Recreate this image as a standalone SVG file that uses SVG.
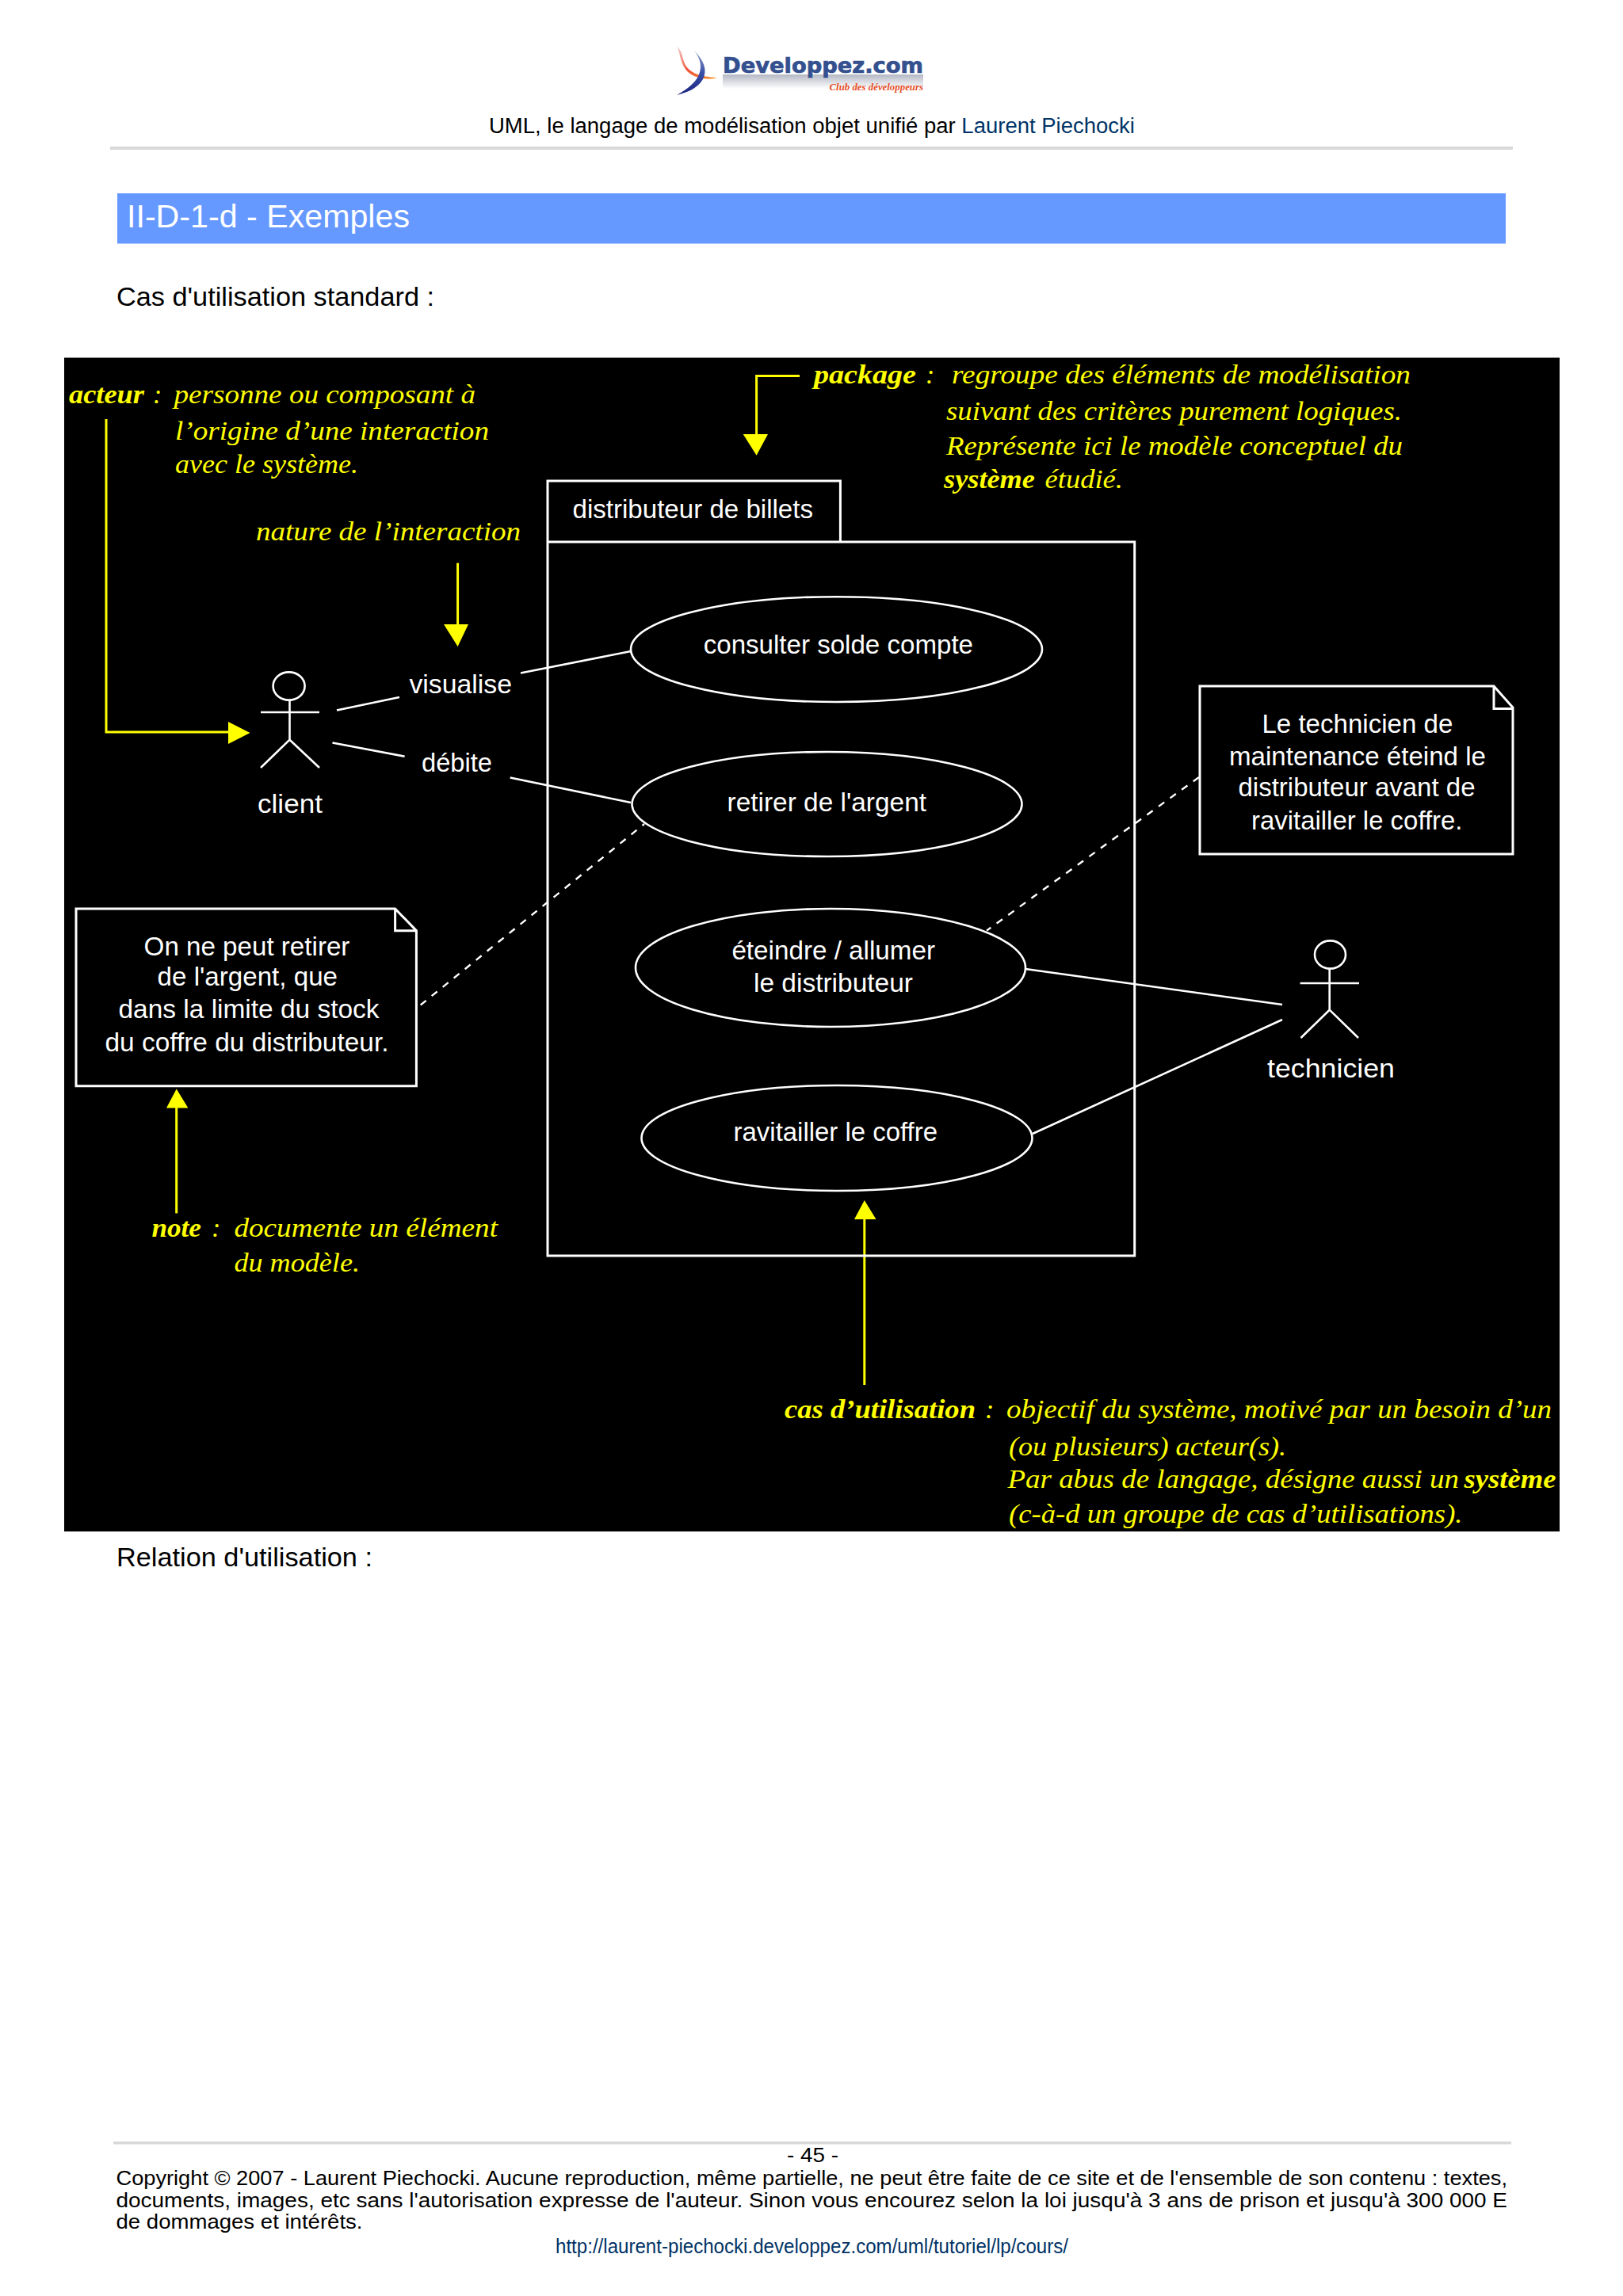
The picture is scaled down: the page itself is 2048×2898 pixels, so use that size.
<svg xmlns="http://www.w3.org/2000/svg" width="2048" height="2898" viewBox="0 0 2048 2898">
<style>
.pg{font-family:"Liberation Sans",Arial,sans-serif;fill:#000}
.lk{fill:#003366}
.w{font-family:"Liberation Sans",Arial,sans-serif;font-size:33px;fill:#fff}
.y{font-family:"Liberation Serif","Times New Roman",serif;font-style:italic;font-size:34px;fill:#ff0}
.b{font-weight:bold}
.sh{fill:none;stroke:#fff;stroke-width:3}
.ln{fill:none;stroke:#fff;stroke-width:2.6}
.da{fill:none;stroke:#fff;stroke-width:2.4;stroke-dasharray:9 9}
.ya{fill:none;stroke:#ff0;stroke-width:3}
.yh{fill:#ff0}
</style>
<rect width="2048" height="2898" fill="#fff"/>
<g id="header">
<defs>
<linearGradient id="swr" x1="0" y1="0" x2="1" y2="1"><stop offset="0" stop-color="#f2d6d6"/><stop offset=".5" stop-color="#f0523a"/><stop offset="1" stop-color="#f7941e"/></linearGradient>
<linearGradient id="swb" x1="0" y1="0" x2="0" y2="1"><stop offset="0" stop-color="#8fa0c8"/><stop offset=".5" stop-color="#3a4fa8"/><stop offset="1" stop-color="#1a237e"/></linearGradient>
<linearGradient id="refl" x1="0" y1="0" x2="0" y2="1"><stop offset="0" stop-color="#b4b8c4"/><stop offset="1" stop-color="#fff"/></linearGradient>
</defs>
<path d="M854 58C862 66 860 72 864 80C869 92 884 97 905 98C890 102 872 98 864 86C858 76 858 66 854 58Z" fill="url(#swr)"/>
<path d="M876 64C888 76 893 88 887 100C880 112 866 117 854 120C868 112 878 104 882 94C886 84 884 74 876 64Z" fill="url(#swb)"/>
<rect x="912" y="94" width="253" height="18" fill="url(#refl)"/>
<text x="912" y="92" textLength="253" lengthAdjust="spacingAndGlyphs" style="font-family:'DejaVu Sans',sans-serif;font-weight:bold;font-size:26px;fill:#34508f;stroke:#34508f;stroke-width:.7">Developpez.com</text>
<text x="1046.5" y="114" textLength="118.5" lengthAdjust="spacingAndGlyphs" style="font-family:'Liberation Serif',serif;font-weight:bold;font-style:italic;font-size:13px;fill:#e8502a">Club des développeurs</text>
<text class="pg" x="617" y="168" font-size="27" textLength="815" lengthAdjust="spacingAndGlyphs">UML, le langage de modélisation objet unifié par <tspan class="lk">Laurent Piechocki</tspan></text>
<rect x="139" y="185" width="1770" height="4" fill="#d8d8d8"/>
<rect x="148" y="244" width="1752" height="63.5" fill="#6699ff"/>
<text x="160" y="287" font-size="40" textLength="357" lengthAdjust="spacingAndGlyphs" style="font-family:'Liberation Sans',sans-serif;fill:#fff">II-D-1-d - Exemples</text>
<text class="pg" x="147" y="386" font-size="33" textLength="401" lengthAdjust="spacingAndGlyphs">Cas d'utilisation standard :</text>
</g>
<rect id="canvas" x="81" y="451.5" width="1887" height="1481.5" fill="#000"/>
<g id="connectors">
<path class="ln" d="M425 896.5L504 880M657 849.5L796 822M419.500 937.500L510.600 954.700M643.700 981.500L796 1013M1294 1223L1618 1268M1303 1431L1618 1287"/>
<path class="da" d="M530.700 1268.500L813 1040M1513 981L1245 1174.600"/>
<path class="ya" d="M134 529V924H289"/>
<path class="yh" d="M288 911L315.500 925L288 939Z"/>
<path class="ya" d="M577.600 710.600V790"/>
<path class="yh" d="M560 788H591L577.600 816Z"/>
<path class="ya" d="M1009 474.400H954.600V550"/>
<path class="yh" d="M937.700 548H969L954.600 574.700Z"/>
<path class="ya" d="M222.700 1531.400V1397"/>
<path class="yh" d="M210 1398.600H237.400L222.700 1374.500Z"/>
<path class="ya" d="M1090.800 1748V1537"/>
<path class="yh" d="M1078 1539H1105.500L1090.800 1515Z"/>
</g>
<g id="package-system">
<path class="sh" d="M691 684V607H1060.400V684M691 684H1431.700V1585H691Z"/>
<text class="w" x="722.500" y="654" textLength="303.500" lengthAdjust="spacingAndGlyphs">distributeur de billets</text>
</g>
<g id="actor-client">
<ellipse class="ln" cx="364.600" cy="866" rx="20" ry="17.600"/>
<path class="ln" d="M329 899H403M365.500 884V933.700L329 969M365.500 933.700L403 969"/>
<text class="w" x="325" y="1026" textLength="82" lengthAdjust="spacingAndGlyphs">client</text>
</g>
<g id="label-visualise"><text class="w" x="516.400" y="875" textLength="129.600" lengthAdjust="spacingAndGlyphs">visualise</text></g>
<g id="label-debite"><text class="w" x="532" y="974" textLength="89" lengthAdjust="spacingAndGlyphs">débite</text></g>
<g id="usecase-consulter">
<ellipse class="ln" cx="1055.500" cy="819.600" rx="259.500" ry="66.400"/>
<text class="w" x="887.700" y="825" textLength="340.300" lengthAdjust="spacingAndGlyphs">consulter solde compte</text>
</g>
<g id="usecase-retirer">
<ellipse class="ln" cx="1043.500" cy="1015" rx="246" ry="66"/>
<text class="w" x="917.600" y="1023.600" textLength="251.400" lengthAdjust="spacingAndGlyphs">retirer de l'argent</text>
</g>
<g id="usecase-eteindre">
<ellipse class="ln" cx="1048" cy="1221.500" rx="246" ry="74.500"/>
<text class="w" x="923.400" y="1211" textLength="256.600" lengthAdjust="spacingAndGlyphs">éteindre / allumer</text>
<text class="w" x="951" y="1252" textLength="201" lengthAdjust="spacingAndGlyphs">le distributeur</text>
</g>
<g id="usecase-ravitailler">
<ellipse class="ln" cx="1056" cy="1436.500" rx="246.500" ry="66.500"/>
<text class="w" x="925.600" y="1440" textLength="257.400" lengthAdjust="spacingAndGlyphs">ravitailler le coffre</text>
</g>
<g id="note-technicien">
<path class="sh" d="M1514 866H1885L1909 893V1078H1514ZM1885 866V894.600H1909"/>
<text class="w" x="1592.400" y="925" textLength="241" lengthAdjust="spacingAndGlyphs">Le technicien de</text>
<text class="w" x="1551" y="966" textLength="324" lengthAdjust="spacingAndGlyphs">maintenance éteind le</text>
<text class="w" x="1562.500" y="1005" textLength="299" lengthAdjust="spacingAndGlyphs">distributeur avant de</text>
<text class="w" x="1579" y="1046.600" textLength="266.500" lengthAdjust="spacingAndGlyphs">ravitailler le coffre.</text>
</g>
<g id="actor-technicien">
<ellipse class="ln" cx="1678.500" cy="1205" rx="19.500" ry="17.600"/>
<path class="ln" d="M1640.600 1241H1715M1677.700 1222.600V1274.600L1641.500 1310M1677.700 1274.600L1714 1310"/>
<text class="w" x="1599" y="1359.600" textLength="161" lengthAdjust="spacingAndGlyphs">technicien</text>
</g>
<g id="note-stock">
<path class="sh" d="M96 1147H498.600L525.400 1174.700V1370.700H96ZM498.600 1147V1174.700H525.400"/>
<text class="w" x="181.600" y="1206" textLength="259.800" lengthAdjust="spacingAndGlyphs">On ne peut retirer</text>
<text class="w" x="198.600" y="1243.600" textLength="227.400" lengthAdjust="spacingAndGlyphs">de l'argent, que</text>
<text class="w" x="149.500" y="1285" textLength="329" lengthAdjust="spacingAndGlyphs">dans la limite du stock</text>
<text class="w" x="132.500" y="1326.700" textLength="358" lengthAdjust="spacingAndGlyphs">du coffre du distributeur.</text>
</g>
<g id="annotation-acteur">
<text class="y b" x="87" y="509" textLength="95" lengthAdjust="spacingAndGlyphs">acteur</text>
<text class="y" x="193" y="509">:</text>
<text class="y" x="219.500" y="509" textLength="380.500" lengthAdjust="spacingAndGlyphs">personne ou composant à</text>
<text class="y" x="221" y="555" textLength="396" lengthAdjust="spacingAndGlyphs">l’origine d’une interaction</text>
<text class="y" x="221" y="597" textLength="231" lengthAdjust="spacingAndGlyphs">avec le système.</text>
</g>
<g id="annotation-nature">
<text class="y" x="323" y="682" textLength="334" lengthAdjust="spacingAndGlyphs">nature de l’interaction</text>
</g>
<g id="annotation-package">
<text class="y b" x="1027" y="484" textLength="129" lengthAdjust="spacingAndGlyphs">package</text>
<text class="y" x="1168" y="484">:</text>
<text class="y" x="1201" y="484" textLength="579" lengthAdjust="spacingAndGlyphs">regroupe des éléments de modélisation</text>
<text class="y" x="1194" y="530" textLength="575" lengthAdjust="spacingAndGlyphs">suivant des critères purement logiques.</text>
<text class="y" x="1194" y="574" textLength="576" lengthAdjust="spacingAndGlyphs">Représente ici le modèle conceptuel du</text>
<text class="y b" x="1191" y="616" textLength="115" lengthAdjust="spacingAndGlyphs">système</text>
<text class="y" x="1318.500" y="616" textLength="98.500" lengthAdjust="spacingAndGlyphs">étudié.</text>
</g>
<g id="annotation-note">
<text class="y b" x="191.400" y="1561" textLength="62.600" lengthAdjust="spacingAndGlyphs">note</text>
<text class="y" x="267" y="1561">:</text>
<text class="y" x="295.400" y="1561" textLength="332.600" lengthAdjust="spacingAndGlyphs">documente un élément</text>
<text class="y" x="295.400" y="1605" textLength="158.600" lengthAdjust="spacingAndGlyphs">du modèle.</text>
</g>
<g id="annotation-cas">
<text class="y b" x="990" y="1790" textLength="241" lengthAdjust="spacingAndGlyphs">cas d’utilisation</text>
<text class="y" x="1243" y="1790">:</text>
<text class="y" x="1270" y="1790" textLength="688" lengthAdjust="spacingAndGlyphs">objectif du système, motivé par un besoin d’un</text>
<text class="y" x="1273" y="1837" textLength="350" lengthAdjust="spacingAndGlyphs">(ou plusieurs) acteur(s).</text>
<text class="y" x="1271.500" y="1878" textLength="569.500" lengthAdjust="spacingAndGlyphs">Par abus de langage, désigne aussi un</text>
<text class="y b" x="1847.600" y="1878" textLength="115.900" lengthAdjust="spacingAndGlyphs">système</text>
<text class="y" x="1273" y="1921.700" textLength="572.500" lengthAdjust="spacingAndGlyphs">(c-à-d un groupe de cas d’utilisations).</text>
</g>
<g id="footer">
<text class="pg" x="147" y="1977" font-size="33" textLength="323" lengthAdjust="spacingAndGlyphs">Relation d'utilisation :</text>
<rect x="143" y="2703" width="1764" height="3.500" fill="#d8d8d8"/>
<text class="pg" x="993" y="2729" font-size="26" textLength="65" lengthAdjust="spacingAndGlyphs">- 45 -</text>
<text class="pg" x="146.500" y="2757.500" font-size="26.500" textLength="1755.500" lengthAdjust="spacingAndGlyphs">Copyright © 2007 - Laurent Piechocki. Aucune reproduction, même partielle, ne peut être faite de ce site et de l'ensemble de son contenu : textes,</text>
<text class="pg" x="146.500" y="2785.500" font-size="26.500" textLength="1755.500" lengthAdjust="spacingAndGlyphs">documents, images, etc sans l'autorisation expresse de l'auteur. Sinon vous encourez selon la loi jusqu'à 3 ans de prison et jusqu'à 300 000 E</text>
<text class="pg" x="146.500" y="2812.500" font-size="26.500" textLength="311" lengthAdjust="spacingAndGlyphs">de dommages et intérêts.</text>
<text class="lk" x="701" y="2844" font-size="25" textLength="647" lengthAdjust="spacingAndGlyphs" style="font-family:'Liberation Sans',sans-serif">http://laurent-piechocki.developpez.com/uml/tutoriel/lp/cours/</text>
</g>
</svg>
